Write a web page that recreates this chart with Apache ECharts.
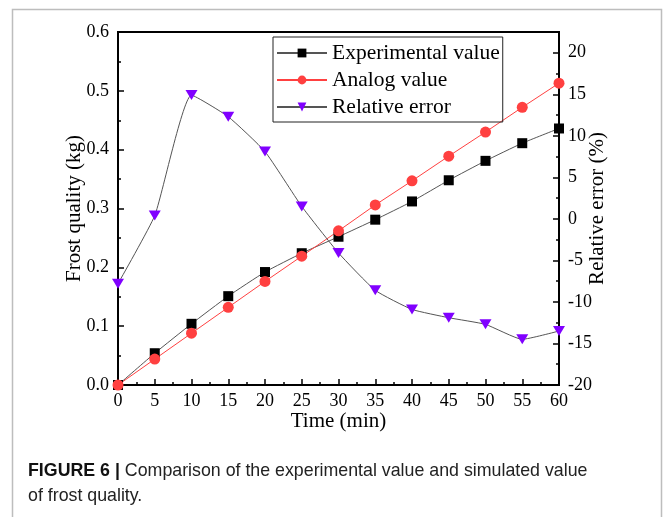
<!DOCTYPE html>
<html>
<head>
<meta charset="utf-8">
<script src="https://cdn.jsdelivr.net/npm/echarts@6/dist/echarts.min.js"></script>
<style>
  html, body { margin: 0; padding: 0; background: #fff; }
  #chart { width: 663px; height: 517px; }
</style>
</head>
<body>
<div id="chart"></div>
<script>
// Sampling times (min)
const times = [0, 5, 10, 15, 20, 25, 30, 35, 40, 45, 50, 55, 60];
// Measured frost mass (kg)
const experimental = [0, 0.054, 0.104, 0.151, 0.192, 0.224, 0.252, 0.281, 0.312, 0.348, 0.381, 0.411, 0.436];
// Simulated frost mass (kg)
const analog = [0, 0.044, 0.088, 0.132, 0.176, 0.219, 0.262, 0.306, 0.347, 0.389, 0.430, 0.472, 0.513];
// Relative error between the two (%)
const relativeError = [-7.8, 0.4, 14.9, 12.3, 8.1, 1.5, -4.1, -8.6, -10.9, -11.9, -12.7, -14.5, -13.5];

const seriesNames = ['Experimental value', 'Analog value', 'Relative error'];
const xTitle = 'Time (min)';
const yLeftTitle = 'Frost quality (kg)';
const yRightTitle = 'Relative error (%)';

const pairs = (vals) => times.map((t, i) => [t, vals[i]]);

const serif = "'Liberation Serif', 'Times New Roman', serif";
const axisBase = {
  nameMoveOverlap: false,
  axisLine: { show: true, lineStyle: { color: '#000', width: 2 } },
  axisTick: { show: true, inside: true, length: 6, lineStyle: { color: '#000', width: 1.5 } },
  minorTick: { show: true, splitNumber: 2, length: 3, lineStyle: { color: '#000', width: 1.5 } },
  splitLine: { show: false },
  axisLabel: { color: '#000', fontFamily: serif, fontSize: 18 },
  nameTextStyle: { color: '#000', fontFamily: serif, fontSize: 21 }
};

const chart = echarts.init(document.getElementById('chart'));
chart.setOption({
  animation: false,
  backgroundColor: '#fff',
  grid: { left: 118, right: 104, top: 32, bottom: 132, show: true, borderColor: '#000', borderWidth: 2 },
  legend: {
    left: 273, top: 37,
    orient: 'vertical',
    data: seriesNames,
    itemWidth: 50, itemHeight: 11, itemGap: 5,
    padding: [5, 3, 4, 3],
    borderColor: '#222', borderWidth: 1,
    textStyle: { color: '#000', fontFamily: serif, fontSize: 21.5, lineHeight: 21.5 }
  },
  xAxis: Object.assign({}, axisBase, {
    type: 'value', min: 0, max: 60, interval: 5,
    name: xTitle, nameLocation: 'middle', nameGap: 26,
    axisLabel: Object.assign({}, axisBase.axisLabel, { margin: 7 })
  }),
  yAxis: [
    Object.assign({}, axisBase, {
      type: 'value', min: 0, max: 0.6, interval: 0.1, position: 'left',
      name: yLeftTitle, nameLocation: 'middle', nameGap: 33,
      axisLabel: Object.assign({}, axisBase.axisLabel, { margin: 9, formatter: (v) => v.toFixed(1) })
    }),
    Object.assign({}, axisBase, {
      type: 'value', min: -20, max: 22.5, interval: 5, position: 'right',
      name: yRightTitle, nameLocation: 'middle', nameGap: 28,
      axisLabel: Object.assign({}, axisBase.axisLabel, { margin: 9, showMaxLabel: false })
    })
  ],
  series: [
    {
      name: seriesNames[0], type: 'line', yAxisIndex: 0,
      data: pairs(experimental), smooth: 0.15,
      symbol: 'rect', symbolSize: 10,
      itemStyle: { color: '#000' },
      lineStyle: { color: '#555', width: 1 }
    },
    {
      name: seriesNames[1], type: 'line', yAxisIndex: 0,
      data: pairs(analog),
      symbol: 'circle', symbolSize: 11,
      itemStyle: { color: '#ff4040' },
      lineStyle: { color: '#ff4040', width: 1 }
    },
    {
      name: seriesNames[2], type: 'line', yAxisIndex: 1,
      data: pairs(relativeError), smooth: 0.15,
      symbol: 'triangle', symbolRotate: 180, symbolSize: [12, 10],
      itemStyle: { color: '#8000ff' },
      lineStyle: { color: '#555', width: 1 }
    }
  ],
  graphic: [
    {
      type: 'rect', silent: true,
      shape: { x: 12.5, y: 9.5, width: 649, height: 560 },
      style: { fill: 'none', stroke: '#bdbdbd', lineWidth: 1.5 }
    },
    {
      type: 'text', x: 28, y: 459,
      style: {
        text: '{b|FIGURE 6 |} Comparison of the experimental value and simulated value\nof frost quality.',
        fontFamily: "'Liberation Sans', Arial, sans-serif",
        fontSize: 17.8, lineHeight: 25, fill: '#222',
        rich: { b: { fontWeight: 'bold', fontSize: 17.8, fill: '#111',
          fontFamily: "'Liberation Sans', Arial, sans-serif" } }
      }
    }
  ]
});
</script>
</body>
</html>
